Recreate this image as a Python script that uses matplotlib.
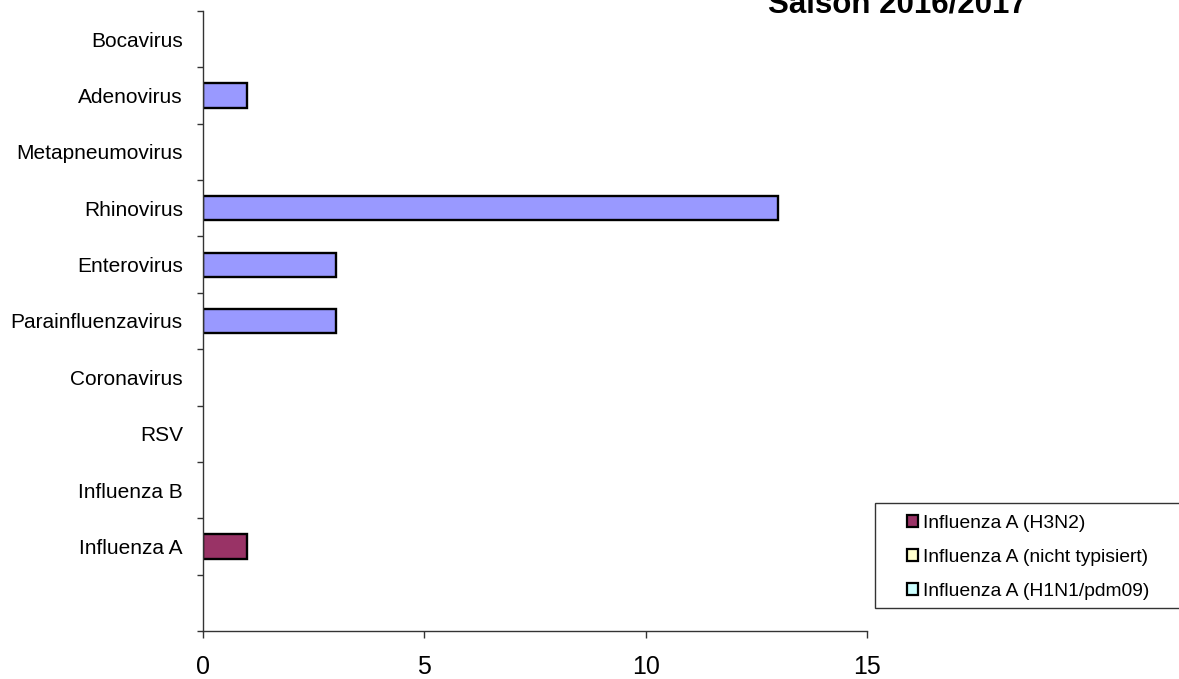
import numpy as np
import matplotlib
matplotlib.use("Agg")
import matplotlib.pyplot as plt
from matplotlib.patches import Patch, Rectangle

plt.rcParams['font.family'] = ['Liberation Sans', 'DejaVu Sans']

# Virus categories, bottom to top (an empty slot sits below Influenza A)
categories = ["Influenza A", "Influenza B", "RSV", "Coronavirus",
              "Parainfluenzavirus", "Enterovirus", "Rhinovirus",
              "Metapneumovirus", "Adenovirus", "Bocavirus"]
# Detections of the non-influenza viruses per category
detections = [0, 0, 0, 0, 3, 3, 13, 0, 1, 0]

# Influenza A subtypes (stacked on the Influenza A row)
flu_subtypes = ["Influenza A (H3N2)", "Influenza A (nicht typisiert)",
                "Influenza A (H1N1/pdm09)"]
flu_counts = [1, 0, 0]
flu_colors = ["#993366", "#FFFFCC", "#CCFFFF"]

x_ticks = [0, 5, 10, 15]
title = "Saison 2016/2017"

W, H = 1179, 679
fig = plt.figure(figsize=(W / 100, H / 100), dpi=100)
ax = fig.add_axes([203 / W, (H - 631) / H, 664 / W, 620 / H])

bar_h = 0.43
ypos = np.arange(1, len(categories) + 1)

for y, v in zip(ypos, detections):
    if v > 0:
        ax.barh(y, v, height=bar_h, color="#9999FF", edgecolor="black",
                linewidth=1.7)

flu_y = ypos[categories.index("Influenza A")]
left = 0
for name, v, c in zip(flu_subtypes, flu_counts, flu_colors):
    if v > 0:
        ax.barh(flu_y, v, left=left, height=bar_h, color=c,
                edgecolor="black", linewidth=1.7)
    left += v

ax.set_xlim(0, 15)
ax.set_ylim(-0.5, len(categories) + 0.5)

ax.set_xticks(x_ticks)
ax.set_xticklabels([str(t) for t in x_ticks], fontsize=18)
ax.tick_params(axis="x", direction="out", length=5, width=1,
               color="#333333", pad=12)

ax.set_yticks(ypos)
ax.set_yticklabels(categories, fontsize=15)
ax.tick_params(axis="y", which="major", length=0, pad=14.5)
ax.set_yticks(np.arange(-0.5, len(categories) + 1, 1), minor=True)
ax.tick_params(axis="y", which="minor", direction="out", length=4.3,
               width=1, color="#333333")

for s in ["top", "right"]:
    ax.spines[s].set_visible(False)
for s in ["left", "bottom"]:
    ax.spines[s].set_color("#333333")
    ax.spines[s].set_linewidth(1)

fig.text(897 / W, (H - 12.5) / H, title, fontsize=22.5, fontweight="bold",
         ha="center", va="baseline")

# Legend box
fig.patches.append(Rectangle((875 / W, (H - 608) / H), 320 / W, 105 / H,
                             transform=fig.transFigure, facecolor="white",
                             edgecolor="#333333", linewidth=1))
handles = [Patch(facecolor=c, edgecolor="black", linewidth=1.6)
           for c in flu_colors]
fig.legend(handles, flu_subtypes, loc="upper left",
           bbox_to_anchor=(907 / W, (H - 515) / H), frameon=False,
           fontsize=13.9, handlelength=0.55, handleheight=0.55,
           handletextpad=0.3, labelspacing=0.88, borderpad=0,
           borderaxespad=0)

fig.savefig("out.png", dpi=100)
